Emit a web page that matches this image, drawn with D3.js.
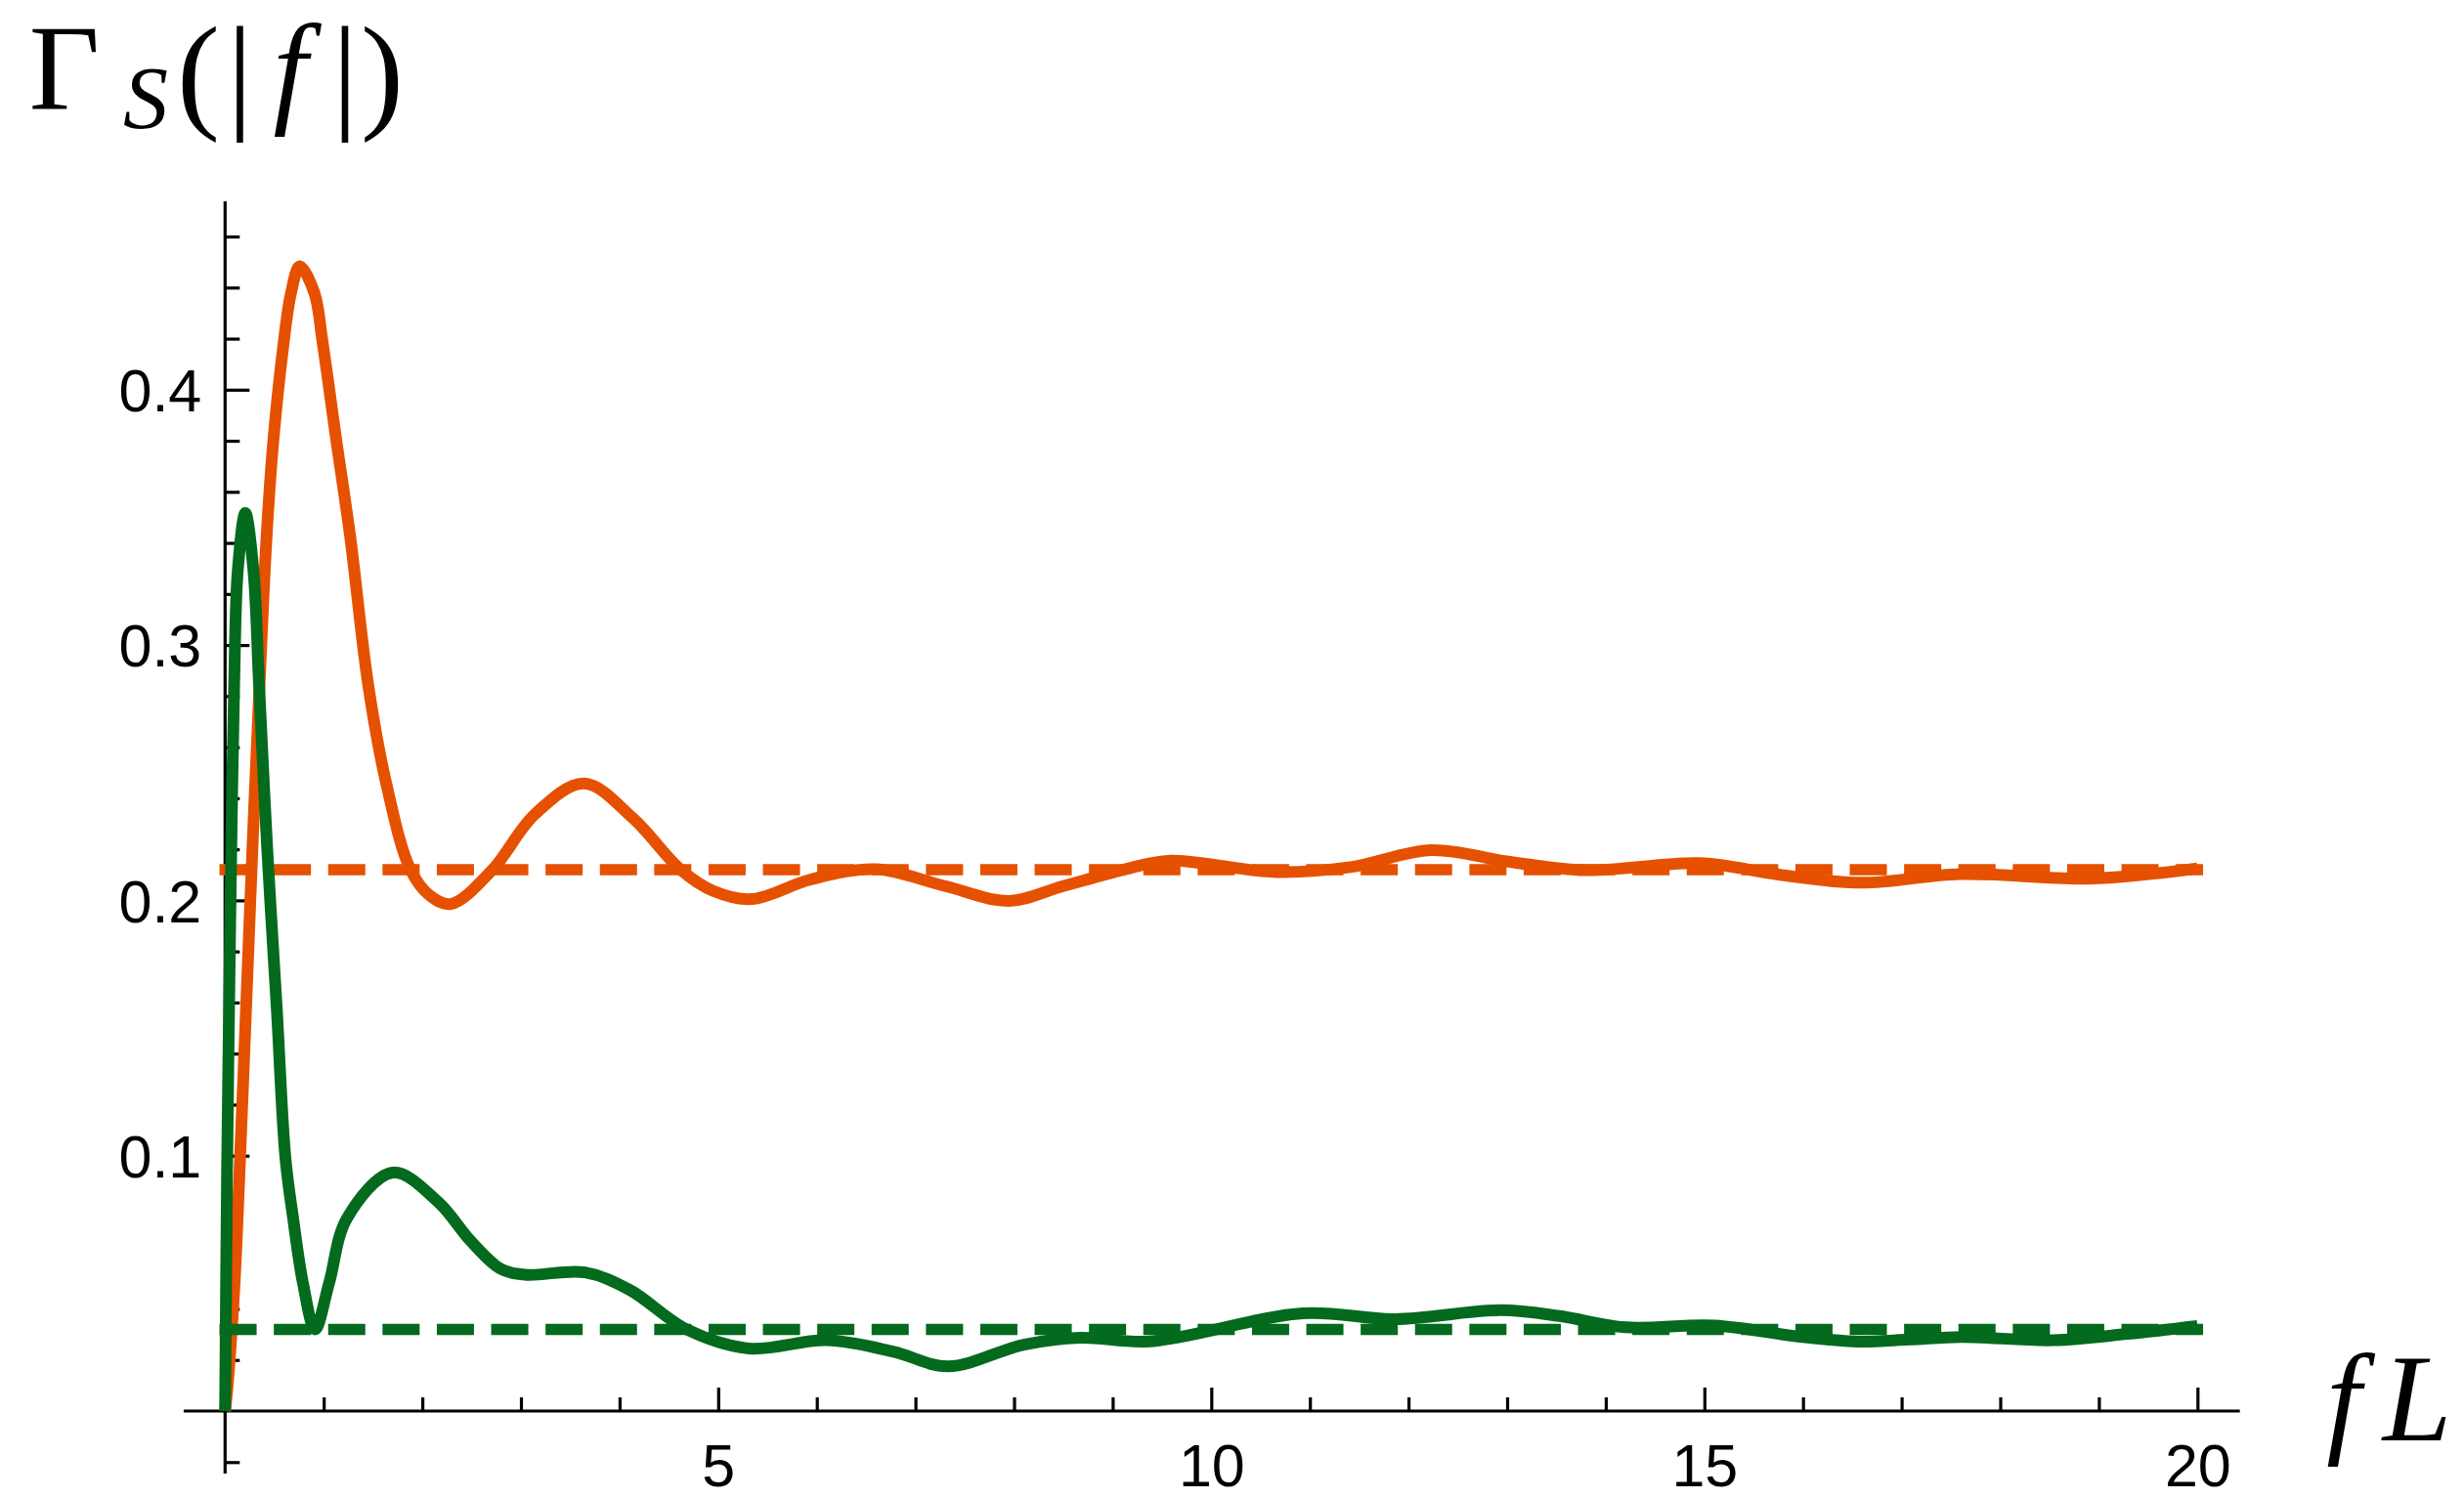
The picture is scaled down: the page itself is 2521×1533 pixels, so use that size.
<!DOCTYPE html>
<html>
<head>
<meta charset="utf-8">
<script src="https://cdn.jsdelivr.net/npm/d3@7"></script>
<style>
  html, body { margin: 0; padding: 0; background: #ffffff; }
  svg { display: block; }
</style>
</head>
<body>
<svg id="chart" width="2521" height="1533"></svg>
<script>
// Γ_S(|f|) as a function of fL for two configurations, with their limiting levels.

// Orange curve: sample points (fL, Γ)
const fLOrange = [0, 0.03, 0.096, 0.146, 0.212, 0.278, 0.35, 0.42, 0.49, 0.595, 0.668, 0.757, 0.906,
  0.988, 1.127, 1.27, 1.45, 1.63, 1.88, 2.08, 2.29, 2.71, 3.14, 3.64, 4.13, 4.62, 4.95,
  5.34, 5.94, 6.6, 7.3, 7.95, 8.5, 9.11, 9.56, 10.66, 11.41, 12.23, 13.01, 13.8, 14.96, 15.75,
  16.59, 17.6, 18.9, 20];
const gammaOrange = [0, 0.012, 0.05, 0.0934, 0.157, 0.221, 0.285, 0.342, 0.3804, 0.4187, 0.4378, 0.4483, 0.4378,
  0.4187, 0.3804, 0.342, 0.2847, 0.2465, 0.212, 0.2018, 0.1986, 0.212, 0.2337, 0.2458, 0.2324, 0.212, 0.2037,
  0.2005, 0.2082, 0.2122, 0.2056, 0.1998, 0.2056, 0.212, 0.2155, 0.2111, 0.213, 0.2197, 0.2152, 0.2118, 0.2146, 0.2101,
  0.2069, 0.2103, 0.2085, 0.2125];

// Green curve: sample points (fL, Γ)
const fLGreen = [0, 0.02, 0.04, 0.063, 0.092, 0.129, 0.205, 0.287, 0.344, 0.426, 0.525, 0.612, 0.69, 0.79,
  0.912, 1.054, 1.236, 1.7, 2.16, 2.49, 2.79, 3.04, 3.65, 4.1, 4.68, 5.31, 6.1, 6.78, 7.33, 8.1,
  8.67, 9.38, 10.93, 11.86, 12.94, 13.53, 14.2, 15.1, 15.93, 16.55, 17.08, 17.61, 18.54, 19.29, 20];
const gammaGreen = [0, 0.0934, 0.157, 0.221, 0.2847, 0.3294, 0.3517, 0.3294, 0.2847, 0.221, 0.157, 0.099, 0.0755, 0.05,
  0.032, 0.05, 0.0755, 0.0934, 0.0819, 0.0666, 0.0558, 0.0534, 0.0543, 0.0475, 0.032, 0.0245, 0.0277, 0.0232, 0.0175, 0.026,
  0.0287, 0.0273, 0.0383, 0.036, 0.0395, 0.0372, 0.0328, 0.0335, 0.0293, 0.0272, 0.028, 0.029, 0.0277, 0.0302, 0.0333];

// Limiting levels (dashed)
const limitOrange = 0.212;
const limitGreen = 0.032;
const limitRange = [0, 20];

// Ticks
const xMajorTicks = [5, 10, 15, 20];
const xMinorTicks = [1, 2, 3, 4, 6, 7, 8, 9, 11, 12, 13, 14, 16, 17, 18, 19];
const yMajorTicks = [0.1, 0.2, 0.3, 0.4];
const yMinorTicks = [-0.02, 0.02, 0.04, 0.06, 0.08, 0.12, 0.14, 0.16, 0.18, 0.22, 0.24, 0.26, 0.28,
  0.32, 0.34, 0.36, 0.38, 0.42, 0.44, 0.46];
const xAxisExtent = [-0.42, 20.43];
const yAxisExtent = [-0.0245, 0.4738];

const orange = "#e55100";
const green = "#046a1e";

const svg = d3.select("#chart");
svg.append("rect").attr("width", 2521).attr("height", 1533).attr("fill", "#ffffff");

const x = d3.scaleLinear().domain([0, 20]).range([230.3, 2248.3]);
const y = d3.scaleLinear().domain([0, 0.4]).range([1444, 398.8]);

const axisStroke = 3.2;
const tickFont = "'Liberation Sans', Arial, sans-serif";

// Axis lines
svg.append("line")
  .attr("x1", x(xAxisExtent[0])).attr("x2", x(xAxisExtent[1]))
  .attr("y1", y(0)).attr("y2", y(0))
  .attr("stroke", "#000").attr("stroke-width", axisStroke);
svg.append("line")
  .attr("x1", x(0)).attr("x2", x(0))
  .attr("y1", y(yAxisExtent[0])).attr("y2", y(yAxisExtent[1]))
  .attr("stroke", "#000").attr("stroke-width", axisStroke);

function styleAxis(g) {
  g.select(".domain").remove();
  g.selectAll(".tick line").attr("stroke", "#000").attr("stroke-width", axisStroke);
  g.attr("font-family", tickFont).attr("font-size", 61);
  g.selectAll(".tick text").attr("fill", "#000");
}

// x axis: minor ticks then major ticks with labels (ticks point inward, upward)
svg.append("g")
  .attr("transform", `translate(0,${y(0)})`)
  .call(d3.axisBottom(x).tickValues(xMinorTicks).tickSizeInner(-14).tickSizeOuter(0).tickFormat(""))
  .call(styleAxis);
svg.append("g")
  .attr("transform", `translate(0,${y(0)})`)
  .call(d3.axisBottom(x).tickValues(xMajorTicks).tickSizeInner(-24).tickSizeOuter(0)
    .tickPadding(33.7).tickFormat(d3.format("d")))
  .call(styleAxis);

// y axis: minor ticks then major ticks with labels (ticks point inward, to the right)
svg.append("g")
  .attr("transform", `translate(${x(0)},0)`)
  .call(d3.axisLeft(y).tickValues(yMinorTicks).tickSizeInner(-15).tickSizeOuter(0).tickFormat(""))
  .call(styleAxis);
const yMajor = svg.append("g")
  .attr("transform", `translate(${x(0)},0)`)
  .call(d3.axisLeft(y).tickValues(yMajorTicks).tickSizeInner(-25).tickSizeOuter(0)
    .tickPadding(24).tickFormat(d3.format(".1f")))
  .call(styleAxis);
yMajor.selectAll(".tick text").attr("dy", "0.358em");

// Curves
const line = d3.line().x(d => x(d[0])).y(d => y(d[1])).curve(d3.curveCatmullRom.alpha(0.5));
const flat = d3.line().x(d => x(d[0])).y(d => y(d[1]));
const orangePts = d3.zip(fLOrange, gammaOrange);
const greenPts = d3.zip(fLGreen, gammaGreen);

const curveWidth = 12;
const dashWidth = 11.5;
const dash = "26.5,29.1";

svg.append("path").datum(orangePts)
  .attr("d", line).attr("fill", "none")
  .attr("stroke", orange).attr("stroke-width", curveWidth)
  .attr("stroke-linejoin", "round");
svg.append("path").datum(limitRange.map(v => [v, limitOrange]))
  .attr("d", flat)
  .attr("fill", "none").attr("stroke", orange).attr("stroke-width", dashWidth)
  .attr("stroke-dasharray", dash).attr("stroke-linecap", "square");

svg.append("path").datum(greenPts)
  .attr("d", line).attr("fill", "none")
  .attr("stroke", green).attr("stroke-width", curveWidth)
  .attr("stroke-linejoin", "round");
svg.append("path").datum(limitRange.map(v => [v, limitGreen]))
  .attr("d", flat)
  .attr("fill", "none").attr("stroke", green).attr("stroke-width", dashWidth)
  .attr("stroke-dasharray", dash).attr("stroke-linecap", "square");

// Axis titles (TeX-like serif)
const serif = "'Liberation Serif', 'DejaVu Serif', serif";
const yTitle = svg.append("text")
  .attr("font-family", serif).attr("fill", "#000").attr("text-anchor", "middle");
yTitle.append("tspan").attr("x", 66).attr("y", 112).attr("font-size", 125).text("Γ");
yTitle.append("tspan").attr("x", 149).attr("y", 131).attr("font-size", 92).attr("font-style", "italic").text("S");
yTitle.append("tspan").attr("x", 203).attr("y", 118).attr("font-size", 132).text("(");
yTitle.append("tspan").attr("x", 245.5).attr("y", 118).attr("font-size", 132).text("|");
yTitle.append("tspan").attr("x", 297).attr("y", 113).attr("font-size", 126).attr("font-style", "italic").text("f");
yTitle.append("tspan").attr("x", 353).attr("y", 118).attr("font-size", 132).text("|");
yTitle.append("tspan").attr("x", 391).attr("y", 118).attr("font-size", 132).text(")");

const xTitle = svg.append("text")
  .attr("font-family", serif).attr("fill", "#000").attr("text-anchor", "middle")
  .attr("font-size", 127).attr("font-style", "italic");
xTitle.append("tspan").attr("x", 2398).attr("y", 1474).text("f");
xTitle.append("tspan").attr("x", 2473).attr("y", 1474).text("L");
</script>
</body>
</html>
